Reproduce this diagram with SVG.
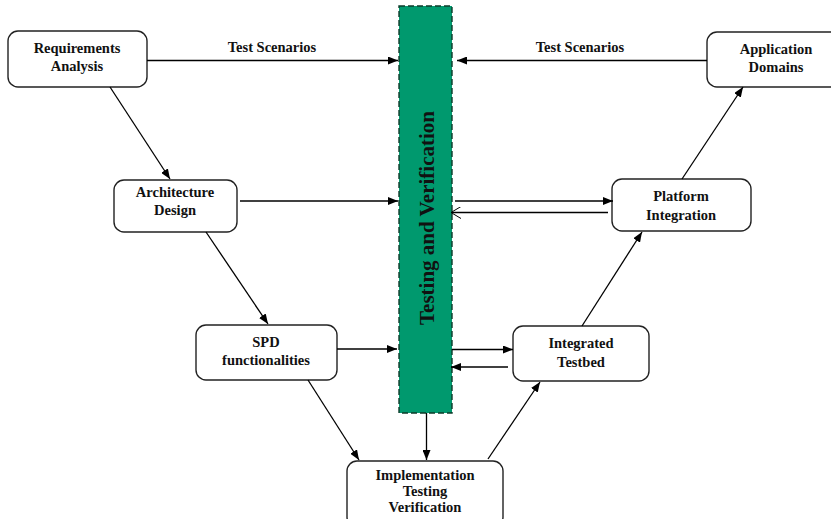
<svg xmlns="http://www.w3.org/2000/svg" width="831" height="519" viewBox="0 0 831 519">
<defs>
<marker id="ah" markerUnits="userSpaceOnUse" markerWidth="11" markerHeight="8" refX="10" refY="4" orient="auto">
<path d="M0,0 L10,4 L0,8 z" fill="#000"/>
</marker>
<marker id="ao" markerUnits="userSpaceOnUse" markerWidth="12" markerHeight="12" refX="10" refY="6" orient="auto">
<path d="M0,0 L10,6 L0,12" fill="none" stroke="#000" stroke-width="1"/>
</marker>
<style>
.box{fill:#fff;stroke:#222;stroke-width:1.4}
.t{font-family:"Liberation Serif","Times New Roman",serif;font-weight:bold;font-size:14.5px;fill:#111;text-anchor:middle}
.c{stroke:#000;stroke-width:1.3;fill:none}
.f{marker-end:url(#ah)}
.o{marker-end:url(#ao)}
</style>
</defs>
<rect width="831" height="519" fill="#fff"/>

<g id="bar">
<rect x="399" y="6" width="53" height="407" fill="#00996E" stroke="#0d3b2a" stroke-width="1.4" stroke-dasharray="6,3"/>
<text class="t" transform="translate(433.5,218) rotate(-90)" style="font-size:21px">Testing and Verification</text>
</g>

<g id="req">
<rect class="box" x="8" y="31" width="139" height="56" rx="10"/>
<text class="t" x="77" y="53">Requirements</text>
<text class="t" x="77" y="71">Analysis</text>
</g>

<g id="app">
<rect class="box" x="707" y="32" width="136" height="55" rx="10"/>
<text class="t" x="776" y="54">Application</text>
<text class="t" x="776" y="72">Domains</text>
</g>

<g id="arch">
<rect class="box" x="114" y="180" width="123" height="52" rx="10"/>
<text class="t" x="175" y="197">Architecture</text>
<text class="t" x="175" y="215">Design</text>
</g>

<g id="plat">
<rect class="box" x="612" y="179" width="139" height="52" rx="10"/>
<text class="t" x="681" y="201">Platform</text>
<text class="t" x="681" y="220">Integration</text>
</g>

<g id="spd">
<rect class="box" x="196" y="325" width="141" height="55" rx="10"/>
<text class="t" x="266" y="347">SPD</text>
<text class="t" x="266" y="365">functionalities</text>
</g>

<g id="testbed">
<rect class="box" x="513" y="326" width="136" height="55" rx="10"/>
<text class="t" x="581" y="348">Integrated</text>
<text class="t" x="581" y="367">Testbed</text>
</g>

<g id="impl">
<rect class="box" x="347" y="461" width="156" height="66" rx="10"/>
<text class="t" x="425" y="480">Implementation</text>
<text class="t" x="425" y="496">Testing</text>
<text class="t" x="425" y="512">Verification</text>
</g>

<g id="connectors">
<line class="c f" x1="147" y1="60.5" x2="398" y2="60.5"/>
<text class="t" x="272" y="52">Test Scenarios</text>
<line class="c f" x1="707" y1="60.5" x2="457" y2="60.5"/>
<text class="t" x="580" y="52">Test Scenarios</text>
<line class="c f" x1="240" y1="201" x2="398" y2="201"/>
<line class="c f" x1="455" y1="201" x2="613" y2="201"/>
<line class="c o" x1="608" y1="212.5" x2="451" y2="212.5"/>
<line class="c f" x1="337" y1="349" x2="397" y2="349"/>
<line class="c f" x1="452" y1="349.5" x2="513" y2="349.5"/>
<line class="c f" x1="508" y1="367" x2="451" y2="367"/>
<line class="c f" x1="426.5" y1="413" x2="426.5" y2="460"/>
<line class="c f" x1="110" y1="87" x2="170" y2="179"/>
<line class="c f" x1="206" y1="232" x2="268" y2="324"/>
<line class="c f" x1="308" y1="380" x2="359" y2="460"/>
<line class="c f" x1="488" y1="459" x2="540" y2="382"/>
<line class="c f" x1="582" y1="326" x2="642" y2="232"/>
<line class="c f" x1="682" y1="179" x2="743" y2="87"/>
</g>
</svg>
